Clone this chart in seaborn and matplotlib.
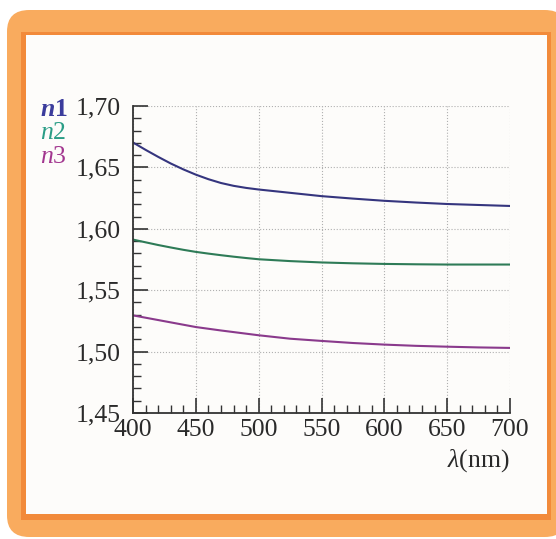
import seaborn as sns
import matplotlib.pyplot as plt
import pandas as pd
from matplotlib.patches import FancyBboxPatch, Rectangle
from matplotlib.ticker import MultipleLocator, FuncFormatter

# wavelength (nm) and refractive indices
wavelength = [400, 410, 420, 430, 440, 450, 460, 470, 480, 490, 500,
              525, 550, 575, 600, 625, 650, 675, 700]
n1 = [1.6703, 1.6643, 1.6586, 1.6532, 1.6484, 1.6441, 1.6404, 1.6373, 1.6350, 1.6333, 1.6320,
      1.6293, 1.6266, 1.6246, 1.6228, 1.6214, 1.6202, 1.6194, 1.6186]
n2 = [1.5912, 1.5890, 1.5868, 1.5848, 1.5829, 1.5812, 1.5798, 1.5785, 1.5773, 1.5762, 1.5752,
      1.5737, 1.5726, 1.5719, 1.5714, 1.5711, 1.5709, 1.5709, 1.5709]
n3 = [1.5295, 1.5276, 1.5257, 1.5238, 1.5219, 1.5200, 1.5186, 1.5172, 1.5159, 1.5146, 1.5133,
      1.5105, 1.5087, 1.5070, 1.5057, 1.5047, 1.5040, 1.5034, 1.5030]
series = ['n1', 'n2', 'n3']

line_colors = {'n1': '#35357e', 'n2': '#2e7b57', 'n3': '#8a3a8c'}
label_colors = ['#3b3c9c', '#2a9d86', '#a2368f']

df = pd.concat([
    pd.DataFrame({'wavelength': wavelength, 'n': vals, 'serie': name})
    for name, vals in zip(series, [n1, n2, n3])
])

sns.set_style('white')
plt.rcParams['font.family'] = ['Liberation Serif', 'DejaVu Serif']
plt.rcParams['mathtext.fontset'] = 'custom'
plt.rcParams['mathtext.rm'] = 'Liberation Serif'
plt.rcParams['mathtext.it'] = 'Liberation Serif:italic'
plt.rcParams['mathtext.bf'] = 'Liberation Serif:bold:italic'

fig = plt.figure(figsize=(5.56, 5.39), dpi=100)
fig.patch.set_facecolor('white')

# orange frame
fig.patches.append(FancyBboxPatch((7 / 556, 2 / 539), 560 / 556, 527 / 539,
                                  boxstyle='round,pad=0,rounding_size=0.04',
                                  transform=fig.transFigure, facecolor='#f9ab5e',
                                  edgecolor='none', zorder=-3))
fig.patches.append(Rectangle((21 / 556, 19 / 539), 530 / 556, 488 / 539,
                             transform=fig.transFigure, facecolor='#f28a3a',
                             edgecolor='none', zorder=-2))
fig.patches.append(Rectangle((26 / 556, 25 / 539), 521 / 556, 479 / 539,
                             transform=fig.transFigure, facecolor='#fdfcfa',
                             edgecolor='none', zorder=-1))

ax = fig.add_axes([133 / 556, 1 - 413 / 539, 377 / 556, 307 / 539])
ax.set_facecolor('none')

sns.lineplot(data=df, x='wavelength', y='n', hue='serie', palette=line_colors,
             linewidth=1.5, legend=False, ax=ax)

ax.set_xlim(400, 700)
ax.set_ylim(1.45, 1.70)
ax.xaxis.set_major_locator(MultipleLocator(50))
ax.xaxis.set_minor_locator(MultipleLocator(10))
ax.yaxis.set_major_locator(MultipleLocator(0.05))
ax.yaxis.set_minor_locator(MultipleLocator(0.01))
ax.yaxis.set_major_formatter(FuncFormatter(lambda v, p: f'{v:.2f}'.replace('.', ',')))

ax.grid(True, which='major', linestyle=':', color='#b0b0b0', linewidth=0.8)
for s in ['top', 'right']:
    ax.spines[s].set_visible(False)
for s in ['left', 'bottom']:
    ax.spines[s].set_color('#333333')
    ax.spines[s].set_linewidth(1.3)

ax.tick_params(which='both', bottom=True, left=True, top=False, right=False)
ax.tick_params(which='major', direction='in', length=11, width=1.2, color='#333333',
               labelsize=18.5, labelcolor='#2a2a2a')
ax.tick_params(which='minor', direction='in', length=6, width=1.0, color='#333333')
ax.tick_params(axis='y', which='major', pad=9)
ax.tick_params(axis='x', which='major', pad=4)

ax.set_xlabel(r'$\lambda$(nm)', loc='right', fontsize=18.5, color='#2a2a2a', labelpad=5)
ax.set_ylabel('')

# series labels
for i, (name, col) in enumerate(zip(series, label_colors)):
    txt = (r'$\mathbf{n}$' if i == 0 else r'$n$') + name[1]
    fig.text(40 / 556, 1 - (109 + 24 * i) / 539, txt, color=col,
             fontsize=18.5, ha='left', va='center',
             fontweight='bold' if i == 0 else 'normal')

fig.savefig('out.png', dpi=100)
